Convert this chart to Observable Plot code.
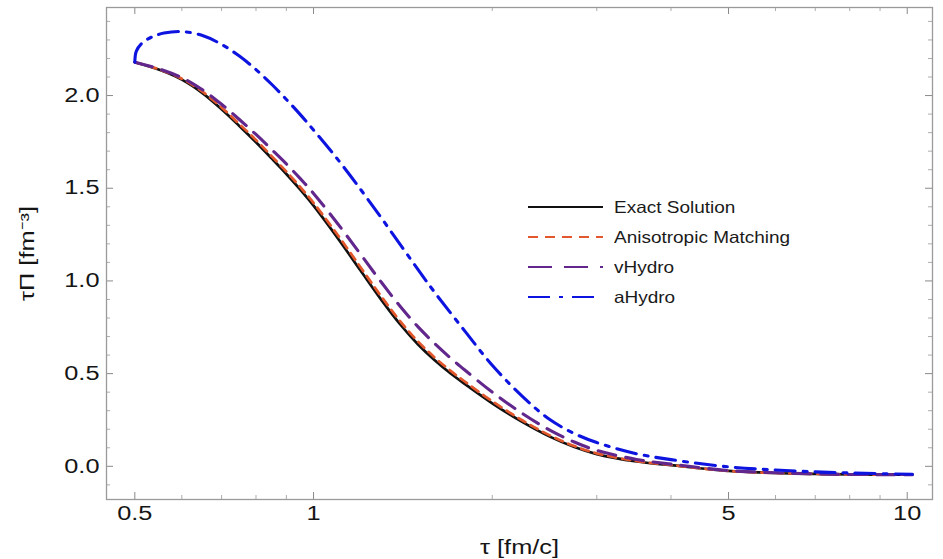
<!DOCTYPE html>
<html>
<head>
<meta charset="utf-8">
<script src="https://cdn.jsdelivr.net/npm/d3@7"></script>
<script src="https://cdn.jsdelivr.net/npm/@observablehq/plot@0.6"></script>
<style>
  html, body { margin: 0; padding: 0; background: #fff; }
  #wrap { position: relative; width: 943px; height: 559px; }
  .leg { position: absolute; left: 0; top: 0; font-family: "Liberation Sans", Arial, sans-serif; font-size: 16.5px; color: #1a1a1a; }
  .row { position: absolute; height: 20px; }
  .row svg { position: absolute; left: 0; top: 0; }
  .row span { position: absolute; white-space: nowrap; line-height: 20px; display: inline-block; transform: scaleX(1.15); transform-origin: left center; }
</style>
</head>
<body>
<div id="wrap"></div>
<script>
// ---- data ----
const tau = [0.5, 0.55, 0.6, 0.65, 0.7, 0.75, 0.8, 0.85, 0.9, 0.95, 1.0, 1.1, 1.2, 1.3, 1.4, 1.5, 1.6, 1.7, 1.8, 2.0, 2.25, 2.5, 2.75, 3.0, 3.5, 4.0, 5.0, 6.0, 7.0, 8.0, 10.2];
const exact  = [2.18, 2.139, 2.086, 2.013, 1.926, 1.836, 1.748, 1.661, 1.577, 1.492, 1.406, 1.228, 1.056, 0.899, 0.765, 0.657, 0.572, 0.502, 0.443, 0.340, 0.238, 0.160, 0.104, 0.066, 0.026, 0.006, -0.025, -0.036, -0.041, -0.044, -0.045];
const aniso  = [2.18, 2.141, 2.091, 2.021, 1.936, 1.846, 1.760, 1.673, 1.590, 1.506, 1.421, 1.245, 1.074, 0.917, 0.782, 0.673, 0.587, 0.516, 0.456, 0.351, 0.247, 0.167, 0.109, 0.070, 0.028, 0.007, -0.025, -0.036, -0.041, -0.044, -0.045];
const vhydro = [2.18, 2.143, 2.096, 2.031, 1.953, 1.871, 1.790, 1.709, 1.631, 1.552, 1.472, 1.306, 1.144, 0.994, 0.862, 0.752, 0.662, 0.585, 0.518, 0.400, 0.284, 0.195, 0.131, 0.086, 0.037, 0.012, -0.023, -0.035, -0.041, -0.044, -0.045];
const tauA   = [0.5, 0.503, 0.515, 0.535, 0.56, 0.6, 0.65, 0.7, 0.75, 0.8, 0.85, 0.9, 0.95, 1.0, 1.1, 1.2, 1.3, 1.4, 1.5, 1.6, 1.8, 2.0, 2.25, 2.5, 2.75, 3.0, 3.5, 4.0, 5.0, 6.0, 7.0, 8.0, 10.2];
const ahydro = [2.18, 2.24, 2.285, 2.317, 2.337, 2.345, 2.324, 2.276, 2.213, 2.140, 2.061, 1.979, 1.897, 1.814, 1.653, 1.494, 1.341, 1.196, 1.061, 0.938, 0.728, 0.545, 0.376, 0.252, 0.177, 0.128, 0.068, 0.036, -0.003, -0.02, -0.03, -0.036, -0.043];

const xMajor = [0.5, 1, 5, 10];
const xMinor = [0.6, 0.7, 0.8, 0.9, 2, 3, 4, 6, 7, 8, 9];
const yMajor = [0, 0.5, 1.0, 1.5, 2.0];
const yMinor = [-0.1, 0.1, 0.2, 0.3, 0.4, 0.6, 0.7, 0.8, 0.9, 1.1, 1.2, 1.3, 1.4, 1.6, 1.7, 1.8, 1.9, 2.1, 2.2, 2.3, 2.4];

const seriesNames = ["Exact Solution", "Anisotropic Matching", "vHydro", "aHydro"];
const seriesColors = ["#111111", "#e2572c", "#62278c", "#0d14e0"];
const seriesDash = [null, "8,6", "18,10", "20,8,4,8"];
const legendDash = [null, "10,7", "24,12", "22,9,4,9"];
const seriesWidth = [2.7, 2.7, 3.1, 3.1];

// ---- build tables ----
const rows = [];
tau.forEach((t, i) => {
  rows.push({s: seriesNames[0], t, v: exact[i]});
  rows.push({s: seriesNames[1], t, v: aniso[i]});
  rows.push({s: seriesNames[2], t, v: vhydro[i]});
});
tauA.forEach((t, i) => rows.push({s: seriesNames[3], t, v: ahydro[i]}));

const W = 943, H = 559, mL = 106, mR = 11, mT = 7, mB = 60;
const innerW = W - mL - mR, innerH = H - mT - mB;
const tickCol = "#8a8a8a";
const majLen = 7, minLen = 4;

const lineMarks = seriesNames.map((name, i) =>
  Plot.line(rows.filter(d => d.s === name), {
    x: "t", y: "v", stroke: seriesColors[i], strokeWidth: seriesWidth[i],
    strokeDasharray: seriesDash[i] || undefined, curve: "catmull-rom"
  })
);

const chart = Plot.plot({
  width: W, height: H,
  marginLeft: mL, marginRight: mR, marginTop: mT, marginBottom: mB,
  x: {type: "log", domain: [0.448, 11.03]},
  y: {domain: [-0.179, 2.475]},
  style: {fontFamily: "'Liberation Sans', Arial, sans-serif", fontSize: "19.5px", color: "#151515", background: "white", overflow: "visible"},
  marks: [
    Plot.tickX(xMajor, {x: d => d, insetTop: innerH - majLen, stroke: tickCol}),
    Plot.tickX(xMajor, {x: d => d, insetBottom: innerH - majLen, stroke: tickCol}),
    Plot.tickX(xMinor, {x: d => d, insetTop: innerH - minLen, stroke: tickCol, strokeOpacity: 0.7}),
    Plot.tickX(xMinor, {x: d => d, insetBottom: innerH - minLen, stroke: tickCol, strokeOpacity: 0.7}),
    Plot.tickY(yMajor, {y: d => d, insetRight: innerW - majLen, stroke: tickCol}),
    Plot.tickY(yMajor, {y: d => d, insetLeft: innerW - majLen, stroke: tickCol}),
    Plot.tickY(yMinor, {y: d => d, insetRight: innerW - minLen, stroke: tickCol, strokeOpacity: 0.7}),
    Plot.tickY(yMinor, {y: d => d, insetLeft: innerW - minLen, stroke: tickCol, strokeOpacity: 0.7}),
    Plot.axisX(xMajor, {tickSize: 0, tickPadding: 7, tickFormat: d => String(d),
      label: "τ [fm/c]", labelAnchor: "center", labelOffset: 54, labelArrow: "none"}),
    Plot.axisY(yMajor, {tickSize: 0, tickPadding: 7, tickFormat: d3.format(".1f"),
      label: "τΠ [fm⁻³]", labelAnchor: "center", labelOffset: 86, labelArrow: "none"}),
    ...lineMarks,
    Plot.frame({stroke: "#9a9a9a", strokeWidth: 1.3})
  ]
});

// widen glyphs horizontally to match the reference's stretched lettering
chart.querySelectorAll("text").forEach(t => {
  const tr = t.getAttribute("transform");
  if (tr) t.setAttribute("transform", tr + " scale(1.3,1)");
});

const wrap = document.getElementById("wrap");
wrap.appendChild(chart);

// ---- legend (inside the plot area) ----
const leg = document.createElement("div");
leg.className = "leg";
const rowY = [207, 237, 267, 297];
seriesNames.forEach((name, i) => {
  const r = document.createElement("div");
  r.className = "row";
  r.style.left = "528px";
  r.style.top = (rowY[i] - 10) + "px";
  r.style.width = "260px";
  const dash = legendDash[i] ? ` stroke-dasharray="${legendDash[i]}"` : "";
  r.innerHTML = `<svg width="76" height="20"><line x1="0" y1="10" x2="75" y2="10" stroke="${seriesColors[i]}" stroke-width="2.2"${dash}/></svg><span style="left:86px;top:0">${name}</span>`;
  leg.appendChild(r);
});
wrap.appendChild(leg);
</script>
</body>
</html>
